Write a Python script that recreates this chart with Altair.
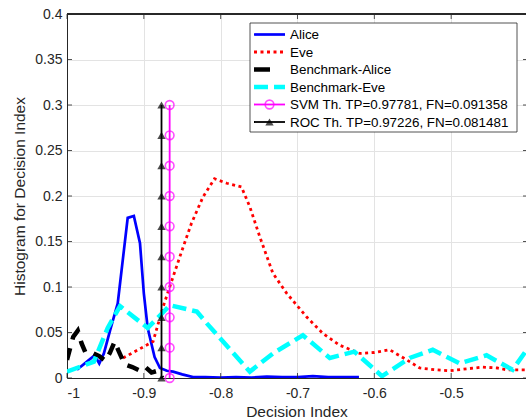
import altair as alt
import pandas as pd

# ---------------- data ----------------
alice_x = [-0.987, -0.974, -0.964, -0.958, -0.952, -0.944, -0.934, -0.921, -0.913,
           -0.905, -0.900, -0.895, -0.886, -0.879, -0.870, -0.862, -0.850, -0.836,
           -0.820, -0.800, -0.780, -0.760, -0.740, -0.720, -0.700, -0.680, -0.660,
           -0.640, -0.620]
alice_y = [0.009, 0.018, 0.025, 0.016, 0.027, 0.052, 0.082, 0.176, 0.178,
           0.148, 0.093, 0.055, 0.023, 0.011, 0.008, 0.007, 0.004, 0.001,
           0.001, 0.0005, 0.001, 0.0005, 0.0015, 0.001, 0.001, 0.002, 0.001,
           0.001, 0.001]

eve_x = [-0.927, -0.888, -0.875, -0.862, -0.850, -0.838, -0.823, -0.808, -0.792,
         -0.773, -0.762, -0.749, -0.732, -0.714, -0.688, -0.667, -0.645, -0.619,
         -0.600, -0.580, -0.558, -0.541, -0.520, -0.502, -0.480, -0.459, -0.440,
         -0.428, -0.400]
eve_y = [0.022, 0.040, 0.078, 0.111, 0.141, 0.170, 0.199, 0.219, 0.214,
         0.210, 0.188, 0.155, 0.115, 0.093, 0.067, 0.049, 0.036, 0.027,
         0.028, 0.031, 0.020, 0.011, 0.009, 0.008, 0.010, 0.012, 0.011,
         0.009, 0.009]

bench_alice_x = [-1.000, -0.992, -0.986, -0.981, -0.976, -0.968, -0.958, -0.950,
                 -0.944, -0.938, -0.933, -0.925, -0.915, -0.905, -0.898, -0.890,
                 -0.882, -0.876]
bench_alice_y = [0.020, 0.045, 0.052, 0.038, 0.028, 0.028, 0.024, 0.019,
                 0.028, 0.040, 0.030, 0.015, 0.012, 0.008, 0.012, 0.006,
                 0.008, 0.000]

bench_eve_x = [-1.000, -0.965, -0.947, -0.931, -0.895, -0.882, -0.866, -0.831,
               -0.818, -0.762, -0.732, -0.693, -0.658, -0.626, -0.590, -0.554,
               -0.524, -0.489, -0.454, -0.420, -0.400]
bench_eve_y = [0.007, 0.018, 0.055, 0.079, 0.055, 0.066, 0.080, 0.073,
               0.060, 0.007, 0.027, 0.047, 0.022, 0.029, 0.002, 0.022,
               0.031, 0.016, 0.025, 0.009, 0.033]

thr_marker_y = [0, 0.0333, 0.0667, 0.1, 0.1333, 0.1667, 0.2, 0.2333, 0.2667, 0.3]
svm_thr = -0.8664
roc_thr = -0.8770

legend_labels = ["Alice", "Eve", "Benchmark-Alice", "Benchmark-Eve",
                 "SVM Th. TP=0.97781, FN=0.091358",
                 "ROC Th. TP=0.97226, FN=0.081481"]

x_ticks = [-1, -0.9, -0.8, -0.7, -0.6, -0.5]
y_ticks = [0, 0.05, 0.1, 0.15, 0.2, 0.25, 0.3, 0.35, 0.4]

# ---------------- layout ----------------
W, H = 459, 364
FONT = "Liberation Sans"
TXT = "#262626"

xscale = alt.Scale(domain=[-1.0, -0.4026], nice=False, zero=False)
yscale = alt.Scale(domain=[0, 0.4], nice=False, zero=False)

X = alt.X("x:Q", scale=xscale,
          axis=alt.Axis(values=x_ticks, labelExpr="'' + datum.value",
                        title="Decision Index"))
Y = alt.Y("y:Q", scale=yscale,
          axis=alt.Axis(values=y_ticks, labelExpr="'' + datum.value",
                        title="Histogram for Decision Index"))


def df(xs, ys):
    return pd.DataFrame({"x": xs, "y": ys})


CIRCLE = dict(shape="circle", color="#ff00ff", filled=False, size=75, strokeWidth=1.6)
TRI = dict(shape="triangle-up", color="#000000", filled=True, size=70)

alice = alt.Chart(df(alice_x, alice_y)).mark_line(
    color="#0000ff", strokeWidth=2.7, clip=True).encode(x=X, y=Y)
eve = alt.Chart(df(eve_x, eve_y)).mark_line(
    color="#ff0000", strokeWidth=2.8, strokeDash=[3, 3.5], clip=True).encode(x=X, y=Y)
bench_alice = alt.Chart(df(bench_alice_x, bench_alice_y)).mark_line(
    color="#000000", strokeWidth=4.5, strokeDash=[12, 9], clip=True).encode(x=X, y=Y)
bench_eve = alt.Chart(df(bench_eve_x, bench_eve_y)).mark_line(
    color="#00ffff", strokeWidth=4.5, strokeDash=[14, 6], clip=True).encode(x=X, y=Y)

svm_df = df([svm_thr] * len(thr_marker_y), thr_marker_y)
roc_df = df([roc_thr] * len(thr_marker_y), thr_marker_y)
svm_line = alt.Chart(svm_df).mark_line(color="#ff00ff", strokeWidth=1.8).encode(x=X, y=Y)
svm_pts = alt.Chart(svm_df).mark_point(**CIRCLE).encode(x=X, y=Y)
roc_line = alt.Chart(roc_df).mark_line(color="#000000", strokeWidth=1.8).encode(x=X, y=Y)
roc_pts = alt.Chart(roc_df).mark_point(**TRI).encode(x=X, y=Y)

# inward tick marks (MATLAB style box)
yt = df([0] * len(y_ticks), y_ticks)
xt = df(x_ticks, [0] * len(x_ticks))
tick_style = dict(color=TXT, strokeWidth=0.8)
left_ticks = alt.Chart(yt).mark_rule(**tick_style).encode(
    y=Y, x=alt.value(0), x2=alt.value(5))
right_ticks = alt.Chart(yt).mark_rule(**tick_style).encode(
    y=Y, x=alt.value(W - 3), x2=alt.value(W))
bottom_ticks = alt.Chart(xt).mark_rule(**tick_style).encode(
    x=X, y=alt.value(H - 5), y2=alt.value(H))
top_ticks = alt.Chart(xt).mark_rule(**tick_style).encode(
    x=X, y=alt.value(0), y2=alt.value(5))
top_border = alt.Chart(xt).mark_rule(color=TXT, strokeWidth=1).encode(
    x=alt.value(0), x2=alt.value(W), y=alt.value(0))

# ---------------- legend ----------------
LX0, LX1, LY0, LY1 = 183, 450, 9, 118
row_y = [20.5, 38, 55.5, 73, 90.5, 108]
SX0, SX1, TX = 187, 218, 223
lg_df = pd.DataFrame({"label": legend_labels})

legend_layers = [
    alt.Chart(lg_df.head(1)).mark_rect(fill="white", stroke=TXT, strokeWidth=0.8).encode(
        x=alt.value(LX0), x2=alt.value(LX1), y=alt.value(LY0), y2=alt.value(LY1))
]
styles = [
    dict(color="#0000ff", strokeWidth=2.7),
    dict(color="#ff0000", strokeWidth=2.8, strokeDash=[3, 3.5]),
    dict(color="#000000", strokeWidth=4.5, strokeDash=[16, 16]),
    dict(color="#00ffff", strokeWidth=4.5, strokeDash=[14, 6]),
    dict(color="#ff00ff", strokeWidth=1.8),
    dict(color="#000000", strokeWidth=1.8),
]
for i, st in enumerate(styles):
    legend_layers.append(
        alt.Chart(lg_df.iloc[[i]]).mark_rule(**st).encode(
            x=alt.value(SX0), x2=alt.value(SX1), y=alt.value(row_y[i])))
    legend_layers.append(
        alt.Chart(lg_df.iloc[[i]]).mark_text(
            align="left", baseline="middle", font=FONT, fontSize=13.4, color="#000000").encode(
            x=alt.value(TX), y=alt.value(row_y[i] + 0.5), text="label:N"))
legend_layers.append(
    alt.Chart(lg_df.iloc[[4]]).mark_point(**CIRCLE).encode(
        x=alt.value((SX0 + SX1) / 2), y=alt.value(row_y[4])))
legend_layers.append(
    alt.Chart(lg_df.iloc[[5]]).mark_point(**TRI).encode(
        x=alt.value((SX0 + SX1) / 2), y=alt.value(row_y[5])))

chart = alt.layer(
    alice, eve, bench_alice, bench_eve, svm_line, svm_pts, roc_line, roc_pts,
    left_ticks, right_ticks, bottom_ticks, top_ticks, top_border,
    *legend_layers
).properties(
    width=W, height=H,
    padding={"left": 67, "top": 14, "right": 0, "bottom": 41},
    autosize=alt.AutoSizeParams(type="none"),
    background="white",
).configure_view(
    stroke=None
).configure_axis(
    labelFont=FONT, labelFontSize=14, labelColor=TXT,
    titleFont=FONT, titleFontSize=15.5, titleFontWeight="normal", titleColor=TXT,
    tickSize=0, domainColor=TXT, domainWidth=1,
    gridColor="#e3e3e3", gridWidth=1,
).configure_axisX(
    labelPadding=8, titlePadding=4,
).configure_axisY(
    labelPadding=5, titlePadding=7,
)

chart.save("out.html", embed_options={"renderer": "svg", "actions": False})
